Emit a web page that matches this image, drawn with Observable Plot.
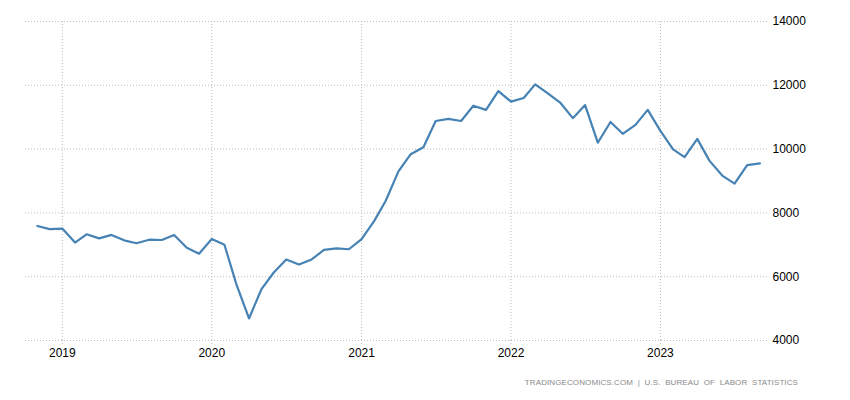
<!DOCTYPE html>
<html>
<head>
<meta charset="utf-8">
<script src="https://cdn.jsdelivr.net/npm/d3@7"></script>
<script src="https://cdn.jsdelivr.net/npm/@observablehq/plot@0.6"></script>
<style>
  html, body { margin: 0; padding: 0; background: #fff; }
  #wrap { position: relative; width: 850px; height: 400px; font-family: "Liberation Sans", Arial, sans-serif; }
  #caption { position: absolute; right: 52px; top: 378px; font-size: 8px; color: #8a8a8a; letter-spacing: 0.1px; white-space: pre; }
</style>
</head>
<body>
<div id="wrap">
  <div id="chart"></div>
  <div id="caption">TRADINGECONOMICS.COM  |  U.S.  BUREAU  OF  LABOR  STATISTICS</div>
</div>
<script>
// Monthly values, Nov 2018 .. Sep 2023 (thousands)
const startMonth = "2018-11";
const values = [
  7590, 7490, 7510, 7070, 7330, 7200, 7310, 7140, 7050, 7160, 7150, 7310, 6910, 6720,
  7180, 7000, 5770, 4690, 5600, 6140, 6540, 6380, 6540, 6840, 6890, 6860,
  7180, 7750, 8380, 9300, 9840, 10060, 10880, 10950, 10880, 11360, 11230, 11820,
  11490, 11600, 12030, 11750, 11460, 10970, 11380, 10200, 10850, 10480, 10760, 11230,
  10570, 9990, 9750, 10320, 9630, 9170, 8920, 9500, 9550
];
const yTicks = [4000, 6000, 8000, 10000, 12000, 14000];
const xTickYears = ["2019", "2020", "2021", "2022", "2023"];

const start = d3.utcParse("%Y-%m")(startMonth);
const data = values.map((v, i) => ({ date: d3.utcMonth.offset(start, i), value: v }));
const xTicks = xTickYears.map(y => d3.utcParse("%Y")(y));

const chart = Plot.plot({
  width: 850,
  height: 370,
  marginLeft: 25,
  marginRight: 82,
  marginTop: 21,
  marginBottom: 30,
  style: { fontFamily: "'Liberation Sans', Arial, sans-serif", fontSize: "12px", color: "#000", background: "#fff" },
  x: { type: "utc", domain: [new Date(Date.UTC(2018, 9, 3)), new Date(Date.UTC(2023, 8, 22))] },
  y: { domain: [4000, 14000] },
  marks: [
    Plot.gridY(yTicks, { stroke: "#bdbdbd", strokeOpacity: 1, strokeDasharray: "1,2" }),
    Plot.gridX(xTicks, { stroke: "#bdbdbd", strokeOpacity: 1, strokeDasharray: "1,2" }),
    Plot.axisX(xTicks, { tickSize: 4, stroke: "#bdbdbd", strokeDasharray: "1,2", tickPadding: 4, tickFormat: d3.utcFormat("%Y"), label: null, fontSize: 12 }),
    Plot.axisY(yTicks, { anchor: "right", tickSize: 0, tickPadding: 4, tickFormat: d3.format("d"), label: null, fontSize: 12 }),
    Plot.line(data, { x: "date", y: "value", stroke: "#4682b4", strokeWidth: 2.2, curve: "linear" })
  ]
});
document.getElementById("chart").appendChild(chart);
</script>
</body>
</html>
